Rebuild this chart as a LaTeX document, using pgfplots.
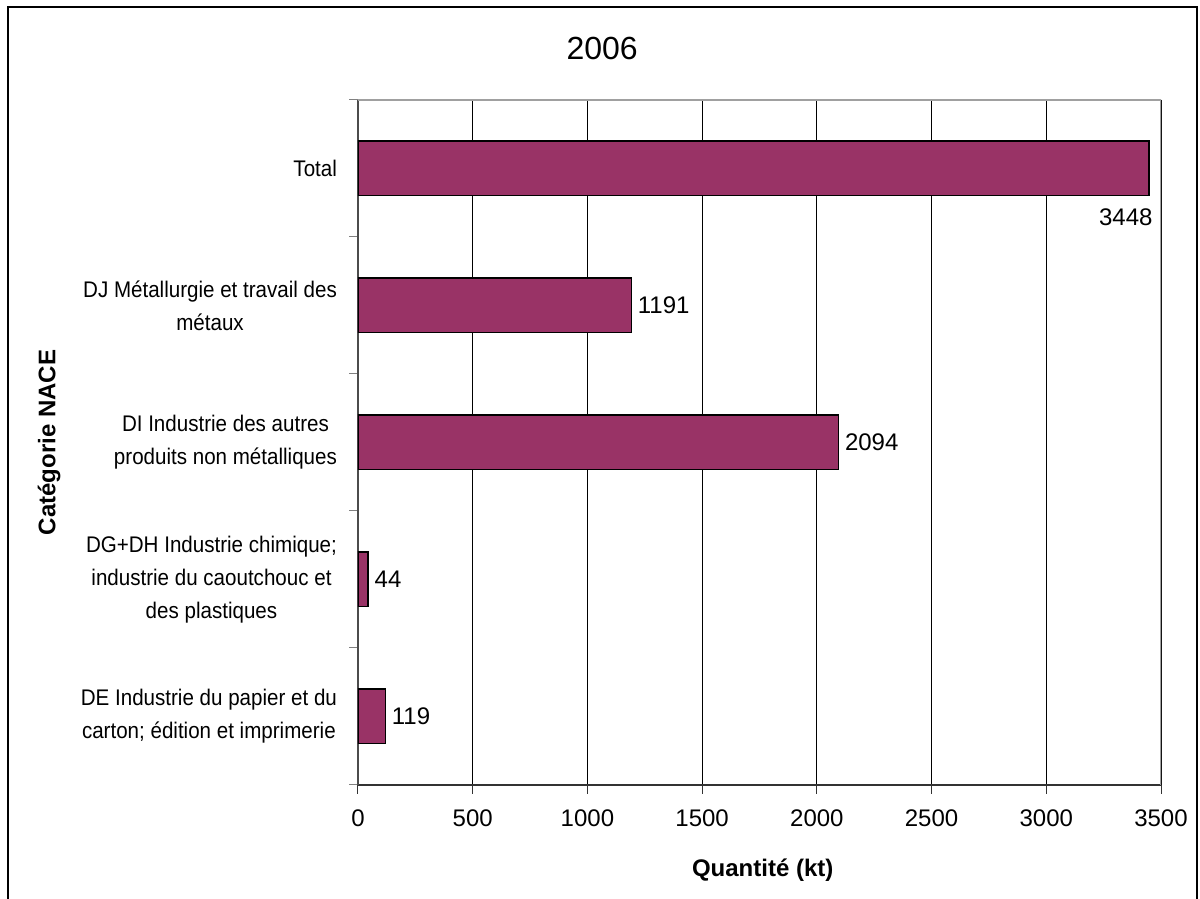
\documentclass[border=0pt]{standalone}
\usepackage{fontspec}
\setmainfont{Liberation Sans}
\newfontfamily\catfont[FakeStretch=0.91]{Liberation Sans}
\usepackage{pgfplots}
\usepackage{pgfplotstable}
\pgfplotsset{compat=1.18}
\definecolor{barplum}{HTML}{993366}
\definecolor{boxgray}{HTML}{A0A0A0}

% Quantities per NACE category (kt), bottom to top
\pgfplotstableread{
pos val
0   119
1   44
2   2094
3   1191
}\sectordata
\pgfplotstableread{
pos val
4   3448
}\totaldata

\begin{document}
\begin{tikzpicture}
\useasboundingbox (-179pt,-57pt) rectangle (421pt,392.5pt);
\draw[line width=1pt] (-175pt,-70pt) rectangle (419.5pt,389pt);
\begin{axis}[
  at={(0,0)}, anchor=south west,
  scale only axis, width=401.5pt, height=342.5pt,
  xbar, bar width=0.4, bar shift=0pt,
  xmin=0, xmax=3500, ymin=-0.5, ymax=4.5,
  axis x line*=bottom, axis y line*=left,
  x axis line style={black!80, line width=0.7pt},
  y axis line style={black!70, line width=0.7pt},
  xtick={0,500,...,3500},
  xmajorgrids, major grid style={black, line width=0.5pt},
  ytick={-0.5,0.5,...,4.5}, yticklabels={},
  extra y ticks={0,1,2,3,4},
  extra y tick labels={
    {DE Industrie du papier et du\\carton; édition et imprimerie},
    {DG+DH Industrie chimique;\\industrie du caoutchouc et\\des plastiques},
    {DI Industrie des autres\\produits non métalliques},
    {DJ Métallurgie et travail des\\métaux},
    {Total}},
  extra y tick style={major tick length=0pt, grid=none},
  tick align=outside, major tick length=4.3pt,
  xtick style={black!80, line width=0.5pt},
  ytick style={gray, line width=0.5pt},
  scaled ticks=false,
  /pgf/number format/1000 sep={},
  /pgf/number format/assume math mode=true,
  xticklabel style={font=\fontsize{12}{14}\selectfont, yshift=-4.5pt},
  yticklabel style={font=\catfont\fontsize{11.3}{16.5}\selectfont, align=center, xshift=-7pt},
  title={2006},
  title style={font=\fontsize{16}{19}\selectfont, at={(axis description cs:0.304,1.0584)}, anchor=center},
  xlabel={Quantité (kt)},
  xlabel style={font=\bfseries\fontsize{12}{14}\selectfont, at={(axis description cs:0.504,-0.124)}, anchor=center},
  ylabel={Catégorie NACE},
  ylabel style={font=\bfseries\fontsize{12}{14}\selectfont, at={(axis description cs:-0.3848,0.5)}, anchor=center},
  nodes near coords,
  every node near coord/.append style={font=\fontsize{12}{14}\selectfont, inner sep=2pt, text=black},
]
\addplot[fill=barplum, draw=black, line width=0.6pt,
  every node near coord/.append style={anchor=west, xshift=1pt},
] table[x=val, y=pos] {\sectordata};
\addplot[fill=barplum, draw=black, line width=0.6pt,
  every node near coord/.append style={anchor=north east, xshift=4pt, yshift=-17.7pt},
] table[x=val, y=pos] {\totaldata};
\draw[boxgray, line width=0.7pt] (rel axis cs:0,1) -- (rel axis cs:1,1) -- (rel axis cs:1,0);
\end{axis}
\end{tikzpicture}
\end{document}
